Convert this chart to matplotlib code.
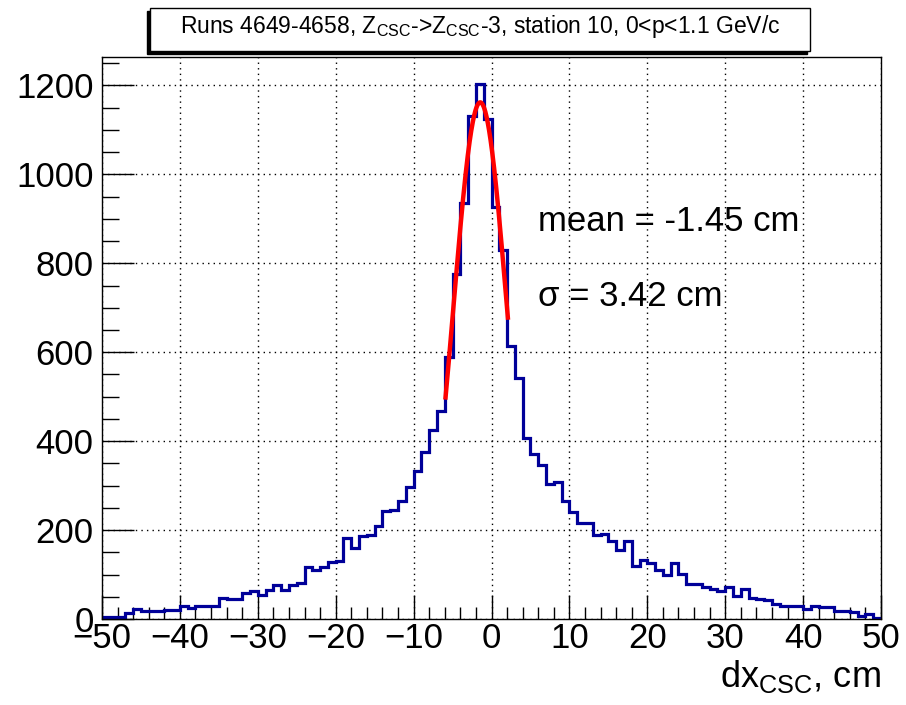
import numpy as np
import matplotlib
matplotlib.use("Agg")
import matplotlib.pyplot as plt
from matplotlib.ticker import MultipleLocator
from matplotlib.patches import Rectangle

plt.rcParams['font.family'] = ['Liberation Sans', 'DejaVu Sans']
plt.rcParams['mathtext.fontset'] = 'custom'
plt.rcParams['mathtext.rm'] = 'Liberation Sans'
plt.rcParams['mathtext.it'] = 'Liberation Sans'

# histogram: 1 cm bins from -50 to 50
x_lo = -50
x_hi = 50
counts = [4, 4, 4, 13, 23, 19, 17, 17, 20, 20,
          30, 25, 30, 30, 30, 47, 44, 44, 59, 62,
          55, 65, 77, 65, 77, 80, 116, 110, 118, 129,
          130, 183, 159, 187, 188, 209, 242, 245, 266, 296,
          333, 375, 424, 468, 590, 775, 936, 1132, 1203, 1124,
          927, 831, 613, 541, 408, 370, 346, 303, 309, 265,
          241, 216, 216, 190, 192, 176, 156, 176, 120, 133,
          126, 111, 100, 126, 101, 79, 79, 72, 67, 64,
          73, 52, 68, 48, 44, 43, 33, 30, 30, 30,
          23, 30, 27, 27, 18, 18, 16, 7, 12, 2]

# gaussian fit
fit_const = 1162
fit_mean = -1.45
fit_sigma = 3.42
fit_lo = -5.9
fit_hi = 2.1

title = r"Runs 4649-4658, Z$_{\mathregular{CSC}}$->Z$_{\mathregular{CSC}}$-3, station 10, 0<p<1.1 GeV/c"
mean_text = "mean = %.2f cm" % fit_mean
sigma_text = "\u03c3 = %.2f cm" % fit_sigma

W, H = 906, 705
fig = plt.figure(figsize=(W / 100, H / 100), dpi=100)
ax = fig.add_axes([102 / W, 1 - 619 / H, (881 - 102) / W, (619 - 57) / H])

edges = np.linspace(x_lo, x_hi, len(counts) + 1)
ax.stairs(counts, edges, color='#000099', lw=2.3, baseline=None)

xf = np.linspace(fit_lo, fit_hi, 200)
yf = fit_const * np.exp(-0.5 * ((xf - fit_mean) / fit_sigma) ** 2)
ax.plot(xf, yf, color='red', lw=3.2)

ax.set_xlim(x_lo, x_hi)
ax.set_ylim(0, 1264)
ax.xaxis.set_major_locator(MultipleLocator(10))
ax.xaxis.set_minor_locator(MultipleLocator(2))
ax.yaxis.set_major_locator(MultipleLocator(200))
ax.yaxis.set_minor_locator(MultipleLocator(50))
ax.grid(True, which='major', color='black', ls=(0, (1, 3)), lw=1.0)
ax.set_axisbelow(True)

ax.tick_params(axis='both', which='both', direction='in', labelsize=25,
               top=False, right=False, width=1.0)
ax.tick_params(axis='x', which='major', length=17, pad=2)
ax.tick_params(axis='x', which='minor', length=9)
ax.tick_params(axis='y', which='major', length=23, pad=6)
ax.tick_params(axis='y', which='minor', length=12)
for s in ax.spines.values():
    s.set_linewidth(1.0)

ax.set_xlabel(r"dx$_{\mathregular{CSC}}$, cm", fontsize=26, loc='right', labelpad=2)

ax.text(0.56, 0.708, mean_text, transform=ax.transAxes, fontsize=25, va='center')
ax.text(0.56, 0.573, sigma_text, transform=ax.transAxes, fontsize=25, va='center')

# title box with shadow
bx0, bx1 = 150 / W, 810 / W
by0, by1 = 1 - 51 / H, 1 - 8 / H
fig.patches.append(Rectangle((bx0 - 3 / W, by0 - 3 / H), bx1 - bx0, by1 - by0,
                             transform=fig.transFigure, color='black', zorder=1))
fig.patches.append(Rectangle((bx0, by0), bx1 - bx0, by1 - by0, transform=fig.transFigure,
                             facecolor='white', edgecolor='black', lw=1.0, zorder=2))
fig.text((bx0 + bx1) / 2, (by0 + by1) / 2 + 3 / H, title, ha='center', va='center',
         fontsize=16.5, zorder=3)

fig.savefig("out.png", dpi=100)
